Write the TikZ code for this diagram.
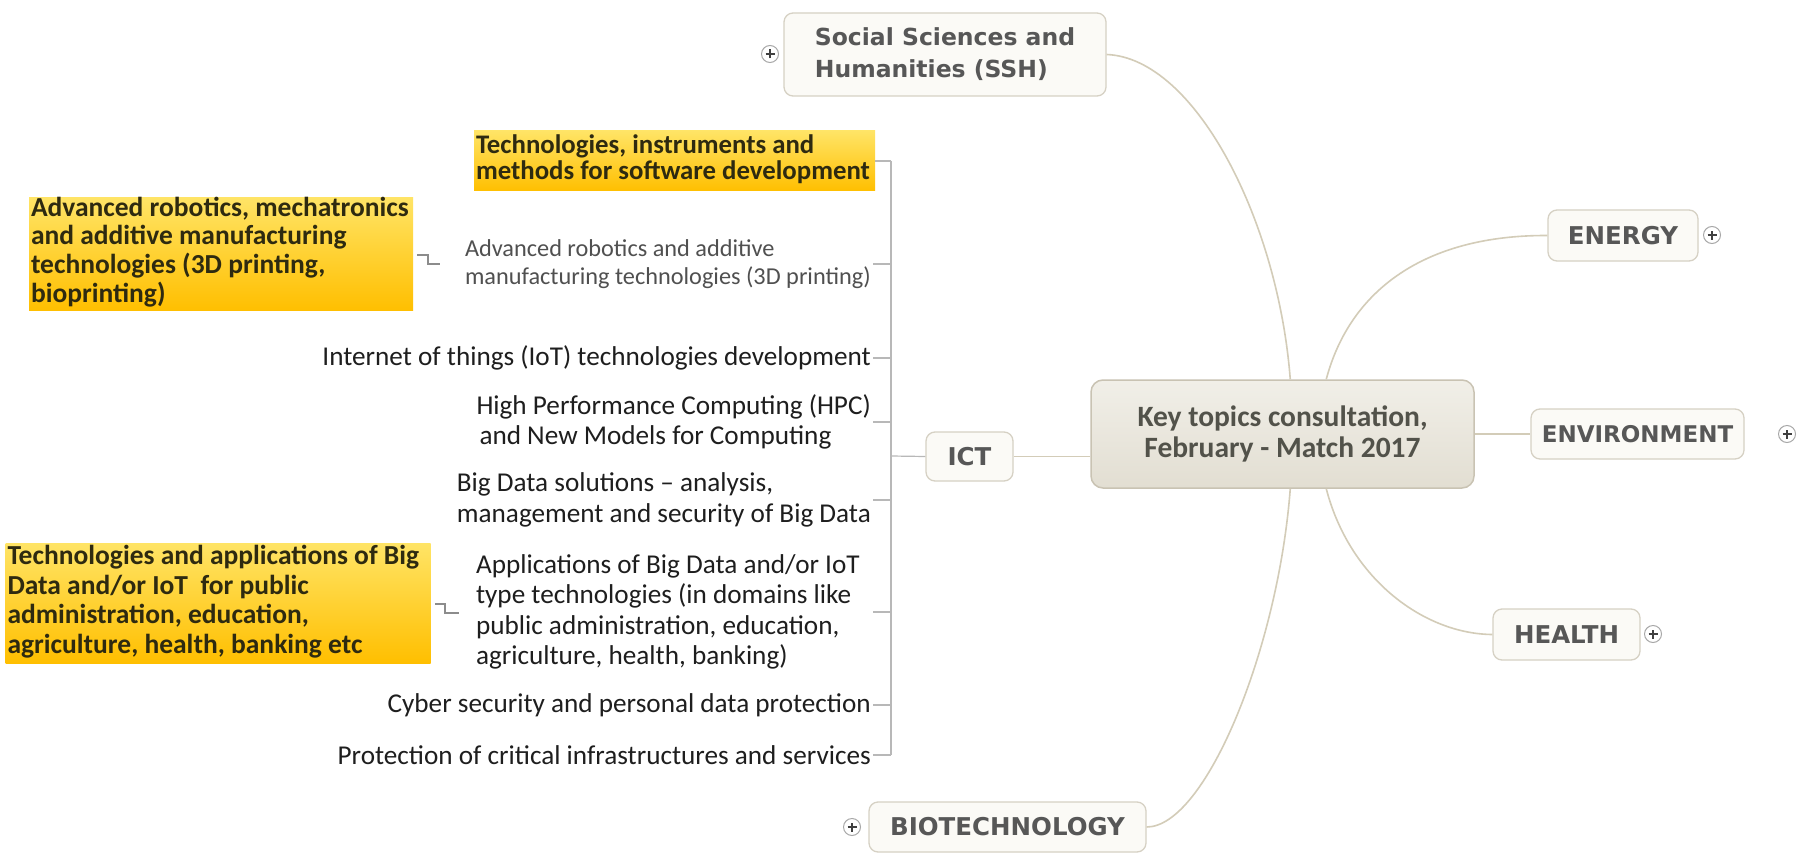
\documentclass[tikz,border=0pt]{standalone}
\usepackage{fontspec}
\setmainfont{Carlito}
\newfontfamily\verd{DejaVu Sans}
\usetikzlibrary{calc}
\definecolor{boxfill}{HTML}{FBFAF6}
\definecolor{boxborder}{HTML}{D6D1C4}
\definecolor{cfilltop}{HTML}{F1EFE8}
\definecolor{cfillbot}{HTML}{E2DED2}
\definecolor{cborder}{HTML}{C9C3B3}
\definecolor{conn}{HTML}{D3CCB8}
\definecolor{topictext}{HTML}{575757}
\definecolor{ctext}{HTML}{52524A}
\definecolor{itemtext}{HTML}{1E1E1E}
\definecolor{itemgray}{HTML}{505050}
\definecolor{yeltop}{HTML}{FFE466}
\definecolor{yelbot}{HTML}{FFBF00}
\definecolor{yeltext}{HTML}{2E2A10}
\definecolor{brk}{HTML}{B8B8B8}
\definecolor{plusborder}{HTML}{A8A8A8}
\tikzset{
  topic/.style={draw=boxborder, fill=boxfill, rounded corners=9pt, line width=1.3pt,
    font=\verd\bfseries\fontsize{24.5}{32}\selectfont, text=topictext, align=left, inner sep=0pt},
  central/.style={draw=cborder, top color=cfilltop, bottom color=cfillbot, rounded corners=12pt,
    line width=1.5pt, font=\bfseries\fontsize{29.5}{31}\selectfont, text=ctext, align=center, inner sep=0pt},
  item/.style={font=\fontsize{27.2}{30.5}\selectfont, text=itemtext, align=left, inner sep=2pt, anchor=east},
  itemg/.style={font=\fontsize{24.3}{27.5}\selectfont, text=itemgray, align=left, inner sep=2pt, anchor=east},
  yel/.style={top color=yeltop, bottom color=yelbot, draw=none, inner sep=0pt, text=yeltext},
  conline/.style={draw=conn, line width=1.6pt},
  brkline/.style={draw=brk, line width=1.2pt},
  elbow/.style={draw=black!45, line width=1.1pt},
  plus/.style={circle, draw=plusborder, fill=white, minimum size=17pt, inner sep=0pt, line width=1pt,
    path picture={\draw[line width=1.5pt, black!75]
      ([xshift=-4.5pt]path picture bounding box.center) -- ([xshift=4.5pt]path picture bounding box.center)
      ([yshift=-4.5pt]path picture bounding box.center) -- ([yshift=4.5pt]path picture bounding box.center);}}
}
% left-aligned block of lines inside a box of fixed width
\newcommand{\leftblock}[2]{\makebox[#1][l]{\begin{tabular}{@{}l@{}}#2\end{tabular}}}
\begin{document}
\begin{tikzpicture}[x=1pt,y=-1pt]
\useasboundingbox (0,0) rectangle (1801,853);
\fill[white] (0,0) rectangle (1801,853);

% main topic nodes
\node[central, minimum width=383pt, minimum height=108pt] (key) at (1282.5,434) {Key topics consultation,\\February - Match 2017};
\node[topic, minimum width=322pt, minimum height=83pt, font=\verd\bfseries\fontsize{23.5}{32}\selectfont] (ssh) at (945,54.5) {Social Sciences and\\Humanities (SSH)};
\node[topic, minimum width=150pt, minimum height=51pt] (energy) at (1623,235.5) {ENERGY};
\node[topic, minimum width=213pt, minimum height=50pt, font=\verd\bfseries\fontsize{23}{32}\selectfont] (env) at (1637.5,434) {ENVIRONMENT};
\node[topic, minimum width=147pt, minimum height=51pt] (health) at (1566.5,634.5) {HEALTH};
\node[topic, minimum width=277pt, minimum height=50pt] (bio) at (1007.5,827) {BIOTECHNOLOGY};
\node[topic, minimum width=87pt, minimum height=49pt] (ict) at (969.5,456.5) {ICT};

% plus markers
\node[plus] (pssh) at (770,54) {};
\node[plus] (pen) at (1712,235) {};
\node[plus] (penv) at (1787,434) {};
\node[plus] (phe) at (1653,634) {};
\node[plus] (pbio) at (852,827) {};

% connectors from central topic
\draw[conline] (ssh.east) .. controls (1195,58) and (1278,220) .. ($(key.north west)+(200,0)$);
\draw[conline] ($(key.north west)+(236,0)$) .. controls (1350,290) and (1425,235) .. (energy.west);
\draw[conline] (key.east) -- (env.west);
\draw[conline] ($(key.south west)+(236,0)$) .. controls (1350,580) and (1425,634) .. (health.west);
\draw[conline] ($(key.south west)+(200,0)$) .. controls (1278,650) and (1205,827) .. (bio.east);
\draw[conline] (ict.east) -- (ict.east -| key.west);

% ICT subtopics
\node[yel, minimum width=401pt, minimum height=60pt, font=\bfseries\fontsize{26.8}{26.5}\selectfont] (y1) at (674.5,161) {\leftblock{397pt}{Technologies, instruments and\\methods for software development}};
\node[itemg] (i2) at (873,264) {Advanced robotics and additive\\manufacturing technologies (3D printing)};
\node[item] (i3) at (873,358) {Internet of things (IoT) technologies development};
\node[item] (i4) at (873,422) {High Performance Computing (HPC)\\\hspace*{3pt}and New Models for Computing};
\node[item] (i5) at (873,500) {Big Data solutions -- analysis,\\management and security of Big Data};
\node[item] (i6) at (862,612) {Applications of Big Data and/or IoT\\type technologies (in domains like\\public administration, education,\\agriculture, health, banking)};
\node[item] (i7) at (873,705) {Cyber security and personal data protection};
\node[item] (i8) at (873,755) {Protection of critical infrastructures and services};

% bracket
\coordinate (b1) at (891,161);
\coordinate (b2) at (891,264);
\coordinate (b3) at (891,358);
\coordinate (b4) at (891,422);
\coordinate (bict) at (891,456);
\coordinate (b5) at (891,500);
\coordinate (b6) at (891,612);
\coordinate (b7) at (891,705);
\coordinate (b8) at (891,755);
\draw[brkline] (b1) -- (b8);
\draw[brkline] (y1.east) -- (b1);
\draw[brkline] (i2.east) -- (b2);
\draw[brkline] (i3.east) -- (b3);
\draw[brkline] (i4.east) -- (b4);
\draw[brkline] (i5.east) -- (b5);
\draw[brkline] (i6.east -| i7.east) -- (b6);
\draw[brkline] (i7.east) -- (b7);
\draw[brkline] (i8.east) -- (b8);
\draw[brkline] (ict.west) -- (bict);

% callouts
\node[yel, minimum width=384pt, minimum height=112pt, font=\bfseries\fontsize{27.5}{28}\selectfont] (y2) at (221,254) {\leftblock{380pt}{Advanced robotics, mechatronics\\and additive manufacturing\\technologies (3D printing,\\bioprinting)}};
\node[yel, minimum width=425pt, minimum height=120pt, font=\bfseries\fontsize{27.5}{29.5}\selectfont] (y3) at (218,603) {\leftblock{421pt}{Technologies and applications of Big\\Data and/or IoT\ \ for public\\administration, education,\\agriculture, health, banking etc}};
\coordinate (e1a) at (417,255);
\coordinate (e1b) at (440,264);
\coordinate (e2a) at (435,604);
\coordinate (e2b) at (459,613);
\draw[elbow] (e1a) -- ++(11,0) |- (e1b);
\draw[elbow] (e2a) -- ++(10,0) |- (e2b);
\end{tikzpicture}
\end{document}
